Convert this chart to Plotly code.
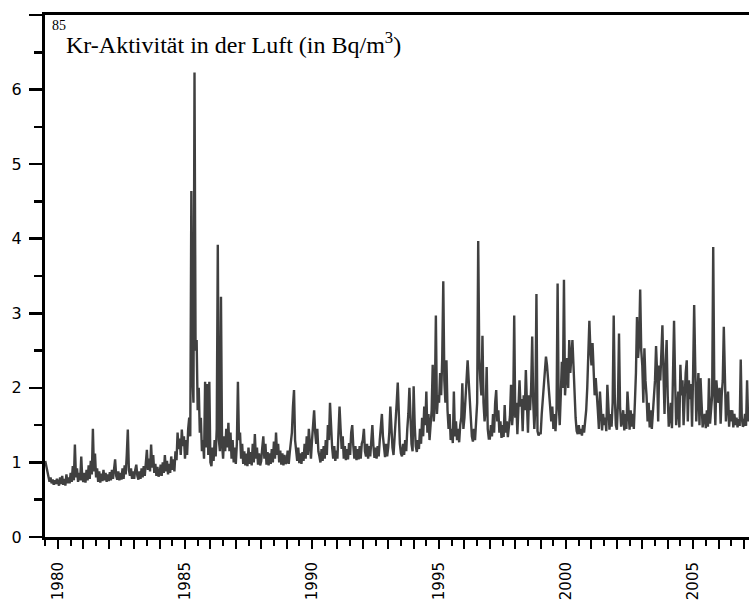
import plotly.graph_objects as go

# ---------------- data ----------------
start_year = 1979.5          # first sample
steps_per_year = 24          # half-monthly samples

kr_1979 = [1.02, 0.95, 0.86, 0.78, 0.74, 0.80, 0.72, 0.77, 0.70, 0.76, 0.71, 0.78]
kr_1980 = [0.74, 0.69, 0.80, 0.71, 0.82, 0.70, 0.78, 0.69, 0.84, 0.72, 0.80, 0.72,
           0.86, 0.74, 0.95, 0.76, 1.24, 0.80, 0.92, 0.74, 0.86, 0.76, 1.08, 0.78]
kr_1981 = [0.74, 0.86, 0.73, 0.90, 0.76, 0.96, 0.78, 1.02, 0.84, 1.45, 0.88, 1.12,
           0.80, 0.92, 0.74, 0.88, 0.73, 0.85, 0.75, 0.90, 0.76, 0.86, 0.74, 0.84]
kr_1982 = [0.75, 0.87, 0.76, 0.90, 0.78, 0.93, 1.04, 0.82, 0.77, 0.88, 0.76, 0.86,
           0.77, 0.92, 0.78, 0.96, 0.84, 1.10, 1.44, 0.90, 0.82, 0.92, 0.78, 0.88]
kr_1983 = [0.78, 0.90, 0.97, 0.82, 0.77, 0.88, 0.78, 0.92, 0.80, 0.95, 0.82, 0.99,
           1.17, 0.90, 1.05, 0.88, 1.24, 0.93, 1.10, 0.86, 0.98, 0.82, 0.94, 0.81]
kr_1984 = [0.84, 0.97, 0.82, 1.00, 0.86, 1.10, 0.88, 1.02, 0.84, 0.98, 0.86, 1.08,
           0.90, 1.04, 0.88, 1.15, 1.03, 1.40, 1.18, 1.32, 1.10, 1.44, 1.22, 1.35]
kr_1985 = [1.05, 1.30, 1.10, 1.45, 1.60, 1.35, 4.64, 2.20, 1.80, 6.23, 2.50, 2.64,
           1.70, 2.00, 1.40, 1.60, 1.15, 1.30, 1.05, 2.08, 1.20, 2.05, 1.10, 2.08]
kr_1986 = [1.00, 0.95, 1.20, 1.02, 1.30, 1.08, 1.45, 3.92, 1.30, 1.15, 3.22, 1.25,
           1.05, 1.35, 1.15, 1.45, 1.20, 1.53, 1.15, 1.40, 1.05, 1.30, 1.00, 1.20]
kr_1987 = [0.98, 1.25, 2.08, 1.30, 1.40, 1.05, 1.25, 0.98, 1.15, 0.96, 1.12, 0.95,
           1.20, 0.98, 1.14, 0.96, 1.25, 1.00, 1.38, 1.05, 1.20, 0.97, 1.12, 0.96]
kr_1988 = [1.02, 1.20, 1.35, 1.05, 1.25, 0.97, 1.14, 0.96, 1.12, 0.98, 1.18, 1.00,
           1.28, 1.05, 1.40, 1.10, 1.25, 1.00, 1.16, 0.97, 1.12, 0.96, 1.10, 0.98]
kr_1989 = [1.00, 1.16, 0.98, 1.14, 1.25, 1.40, 1.75, 1.97, 1.30, 1.10, 1.02, 1.20,
           0.99, 1.12, 0.98, 1.14, 1.02, 1.25, 1.05, 1.35, 1.10, 1.45, 1.15, 1.05]
kr_1990 = [1.30, 1.55, 1.70, 1.40, 1.25, 1.45, 1.15, 1.08, 1.00, 1.18, 1.02, 1.22,
           1.05, 1.30, 1.10, 1.50, 1.30, 1.80, 1.40, 1.20, 1.05, 1.22, 1.02, 1.16]
kr_1991 = [1.05, 1.35, 1.75, 1.45, 1.18, 1.35, 1.05, 1.22, 1.03, 1.18, 1.04, 1.26,
           1.10, 1.40, 1.50, 1.22, 1.05, 1.22, 1.03, 1.18, 1.04, 1.22, 1.05, 1.25]
kr_1992 = [1.30, 1.45, 1.15, 1.08, 1.25, 1.05, 1.22, 1.08, 1.35, 1.50, 1.22, 1.06,
           1.20, 1.05, 1.22, 1.08, 1.30, 1.45, 1.65, 1.35, 1.15, 1.07, 1.25, 1.08]
kr_1993 = [1.20, 1.40, 1.75, 1.45, 1.20, 1.10, 1.30, 1.55, 1.80, 2.07, 1.60, 1.25,
           1.12, 1.08, 1.25, 1.10, 1.30, 1.15, 1.45, 1.65, 2.00, 1.50, 1.25, 1.15]
kr_1994 = [2.02, 1.50, 1.22, 1.14, 1.30, 1.18, 1.45, 1.25, 1.60, 1.35, 1.75, 1.50,
           1.95, 1.40, 1.65, 1.30, 1.55, 1.70, 2.31, 1.55, 1.80, 2.97, 1.65, 1.90]
kr_1995 = [1.80, 2.20, 1.90, 2.40, 3.43, 2.10, 1.80, 2.37, 1.70, 1.45, 1.65, 1.30,
           1.45, 1.26, 1.95, 1.35, 1.55, 1.30, 1.45, 1.27, 1.50, 1.60, 2.06, 1.45]
kr_1996 = [1.60, 1.85, 2.05, 2.37, 2.10, 1.80, 1.55, 1.35, 1.28, 1.45, 1.30, 1.60,
           1.80, 3.97, 2.40, 2.10, 1.90, 2.70, 1.80, 1.55, 1.70, 2.28, 1.45, 1.32]
kr_1997 = [1.32, 1.50, 1.35, 1.65, 1.40, 1.80, 1.97, 1.55, 1.70, 1.40, 1.55, 1.33,
           1.50, 1.34, 1.77, 1.40, 1.55, 1.34, 1.50, 1.62, 2.04, 1.50, 1.70, 2.97]
kr_1998 = [1.60, 1.80, 1.38, 1.70, 2.10, 1.75, 1.85, 1.42, 1.90, 1.70, 2.24, 1.80,
           1.40, 1.90, 1.70, 2.00, 2.69, 1.80, 1.45, 1.75, 3.26, 1.42, 1.36, 1.40]
kr_1999 = [1.38, 1.65, 1.85, 2.00, 2.20, 2.42, 2.30, 2.10, 1.90, 1.70, 1.55, 1.75,
           1.45, 1.65, 1.42, 1.70, 3.40, 1.80, 1.50, 1.90, 2.35, 2.00, 3.45, 1.90]
kr_2000 = [2.10, 2.40, 2.00, 2.64, 2.20, 2.50, 2.64, 2.30, 1.80, 1.60, 1.42, 1.38,
           1.50, 1.38, 1.45, 1.36, 1.50, 1.40, 1.55, 1.70, 2.00, 2.40, 2.90, 2.50]
kr_2001 = [2.30, 2.60, 2.20, 1.90, 2.13, 1.80, 1.70, 1.45, 1.95, 1.70, 1.43, 1.65,
           1.50, 1.60, 1.42, 2.04, 1.70, 1.44, 1.65, 1.48, 1.80, 2.97, 1.90, 1.50]
kr_2002 = [1.44, 1.80, 2.73, 1.75, 1.48, 1.55, 1.70, 1.43, 1.65, 1.45, 1.95, 1.60,
           1.44, 1.70, 1.48, 1.65, 1.45, 1.80, 2.20, 2.95, 2.40, 2.60, 3.32, 2.50]
kr_2003 = [2.30, 1.80, 2.53, 2.10, 1.90, 1.55, 1.80, 1.47, 1.70, 1.45, 1.65, 1.80,
           2.10, 2.56, 2.20, 1.55, 2.30, 2.10, 2.40, 2.84, 2.20, 1.65, 2.30, 2.64]
kr_2004 = [1.90, 1.48, 1.60, 1.80, 1.46, 2.00, 2.90, 2.10, 1.50, 1.70, 1.95, 1.47,
           2.31, 1.90, 2.10, 1.50, 1.95, 2.20, 2.37, 1.55, 2.10, 1.85, 2.05, 1.48]
kr_2005 = [2.20, 3.11, 2.30, 1.55, 1.90, 2.20, 1.50, 2.13, 1.80, 1.47, 1.60, 1.65,
           1.46, 1.70, 1.48, 2.13, 1.52, 1.75, 1.90, 3.89, 2.00, 1.50, 2.10, 1.90]
kr_2006 = [1.80, 2.00, 1.52, 1.90, 2.10, 2.82, 2.00, 1.55, 1.80, 1.95, 1.48, 1.70,
           1.55, 1.70, 1.47, 1.65, 1.50, 1.60, 1.47, 1.58, 1.49, 2.38, 1.60, 1.48]
kr_2007 = [1.50, 1.65, 1.49, 2.10, 1.55]

y_tick_values = [0, 1, 2, 3, 4, 5, 6, 7]
y_tick_labels = ["0", "1", "2", "3", "4", "5", "6", ""]
x_label_years = [1980, 1985, 1990, 1995, 2000, 2005]

title_main = "Kr-Aktivität in der Luft (in Bq/m<sup>3</sup>)"
title_isotope = "85"

# ---------------- build ----------------
values = (kr_1979 + kr_1980 + kr_1981 + kr_1982 + kr_1983 + kr_1984 + kr_1985 +
          kr_1986 + kr_1987 + kr_1988 + kr_1989 + kr_1990 + kr_1991 + kr_1992 +
          kr_1993 + kr_1994 + kr_1995 + kr_1996 + kr_1997 + kr_1998 + kr_1999 +
          kr_2000 + kr_2001 + kr_2002 + kr_2003 + kr_2004 + kr_2005 + kr_2006 +
          kr_2007)
years = [start_year + i / steps_per_year for i in range(len(values))]

W, H = 749, 602
L, R, T, B = 45, 0, 15, 65
plot_w = W - L - R
plot_h = H - T - B

fig = go.Figure(go.Scatter(
    x=years, y=values, mode="lines",
    line=dict(color="#404040", width=2.4),
    hoverinfo="skip",
))

year_ticks = list(range(1980, 2008))
year_text = [str(y) if y in x_label_years else "" for y in year_ticks]
half_ticks = [y + 0.5 for y in range(1979, 2008)]

y_tick_font = dict(family="DejaVu Sans", size=16, color="black")
x_tick_font = dict(family="DejaVu Sans", size=15, color="black")

fig.update_layout(
    width=W, height=H,
    margin=dict(l=L, r=R, t=T, b=B, pad=0, autoexpand=False),
    plot_bgcolor="white", paper_bgcolor="white",
    showlegend=False,
)

fig.update_xaxes(
    range=[1979.49, 2007.2], automargin=False,
    showgrid=False, zeroline=False,
    showline=True, linecolor="black", linewidth=3, mirror=True,
    tickmode="array", tickvals=year_ticks, ticktext=year_text,
    ticks="outside", ticklen=9, tickwidth=2, tickcolor="black",
    tickangle=-90, tickfont=x_tick_font, ticklabelstandoff=7,
    minor=dict(tickmode="array", tickvals=half_ticks, ticks="outside",
               ticklen=6, tickwidth=2, tickcolor="black", showgrid=False),
)

fig.update_yaxes(
    range=[0, 7], automargin=False,
    showgrid=False, zeroline=False,
    showline=True, linecolor="black", linewidth=3, mirror=False,
    tickmode="array", tickvals=y_tick_values, ticktext=y_tick_labels,
    ticks="outside", ticklen=13, tickwidth=2.5, tickcolor="black",
    tickfont=y_tick_font, ticklabelstandoff=4,
    minor=dict(tickmode="linear", tick0=0, dtick=0.5, ticks="outside",
               ticklen=8, tickwidth=2.5, tickcolor="black", showgrid=False),
)

def px_x(px):
    return (px - L) / plot_w

def px_y(py):
    return 1 - (py - T) / plot_h

fig.add_annotation(
    text=title_isotope, xref="paper", yref="paper",
    x=px_x(50), y=px_y(16), xanchor="left", yanchor="top",
    showarrow=False, font=dict(family="Liberation Serif", size=14, color="black"),
)
fig.add_annotation(
    text=title_main, xref="paper", yref="paper",
    x=px_x(64), y=px_y(26), xanchor="left", yanchor="top",
    showarrow=False, font=dict(family="Liberation Serif", size=24, color="black"),
)

fig.write_html(
    "out.html",
    config={"displayModeBar": False, "staticPlot": True},
    post_script="document.body.style.margin='0';document.body.style.overflow='hidden';",
)
